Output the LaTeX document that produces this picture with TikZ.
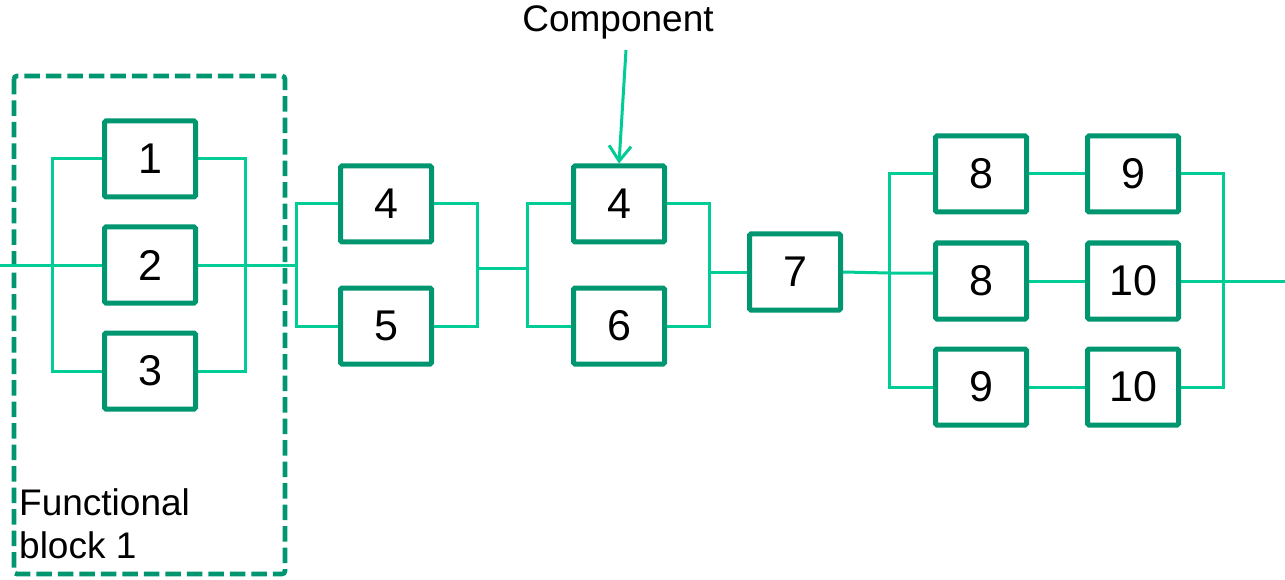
\documentclass[tikz,border=0pt]{standalone}
\usepackage{fontspec}
\setmainfont{Liberation Sans}
\usetikzlibrary{arrows.meta,calc}
\definecolor{boxgreen}{RGB}{0,150,112}
\definecolor{wiregreen}{RGB}{0,204,150}
\begin{document}
\begin{tikzpicture}[x=1pt,y=-1pt,
  comp/.style={draw=boxgreen, fill=white, line width=5pt, rounded corners=1.5pt,
    minimum width=91pt, minimum height=76pt, inner sep=0pt,
    font=\fontsize{43}{48}\selectfont},
  wire/.style={draw=wiregreen, line width=3pt},
  lbl/.style={font=\fontsize{37}{43}\selectfont, inner sep=0pt}]
\useasboundingbox (0,0) rectangle (1285,580);

% functional block frame
\draw[boxgreen, line width=4.7pt, dash pattern=on 15.5pt off 6pt, rounded corners=3pt]
  (14,76) rectangle (285,574);
\node[lbl, align=left, anchor=base west] (FBL) at (19,558) {Functional\\block 1};

% components
\node[comp] (B1) at (150,159) {1};
\node[comp] (B2) at (150,265) {2};
\node[comp] (B3) at (150,371) {3};
\node[comp] (B4a) at (386,204) {4};
\node[comp] (B5) at (386,326) {5};
\node[comp] (B4b) at (619,204) {4};
\node[comp] (B6) at (619,326) {6};
\node[comp] (B7) at (795,272) {7};
\node[comp] (B8a) at (981,174) {8};
\node[comp] (B9a) at (1133,174) {9};
\node[comp] (B8b) at (981,281) {8};
\node[comp] (B10a) at (1133,281) {10};
\node[comp] (B9b) at (981,387) {9};
\node[comp] (B10b) at (1133,387) {10};

% bus coordinates
\coordinate (in) at (0,265);
\coordinate (g1l) at (52,265);
\coordinate (g1r) at (245,265);
\coordinate (g2l) at (296,265);
\coordinate (g2r) at (477,268);
\coordinate (g3l) at (527,268);
\coordinate (g3r) at (709,272);
\coordinate (g4l) at (889,273);
\coordinate (g4r) at (1223,281);
\coordinate (out) at (1285,281);

% group 1
\draw[wire] (in) -- (B2.west);
\draw[wire] (B1.west) -| (g1l) |- (B3.west);
\draw[wire] (B1.east) -| (g1r) |- (B3.east);
\draw[wire] (B2.east) -- (g2l);
% group 2
\draw[wire] (B4a.west) -| (g2l) |- (B5.west);
\draw[wire] (B4a.east) -| (g2r) |- (B5.east);
\draw[wire] (g2r) -- (g3l);
% group 3
\draw[wire] (B4b.west) -| (g3l) |- (B6.west);
\draw[wire] (B4b.east) -| (g3r) |- (B6.east);
\draw[wire] (g3r) -- (B7.west);
% group 4
\draw[wire] (B7.east) -- (g4l) -- (g4l -| B8b.west);
\draw[wire] (B8a.west) -| (g4l) |- (B9b.west);
\draw[wire] (B8a.east) -- (B9a.west);
\draw[wire] (B8b.east) -- (B10a.west);
\draw[wire] (B9b.east) -- (B10b.west);
\draw[wire] (B9a.east) -| (g4r) |- (B10b.east);
\draw[wire] (B10a.east) -- (out);

% component callout
\node[lbl, anchor=base] (CL) at (618,32) {Component};
\coordinate (arrS) at (626,50);
\draw[wire, -{Straight Barb[length=15pt,width=22pt,line width=3pt]}] (arrS) -- (B4b.north);
\end{tikzpicture}
\end{document}
